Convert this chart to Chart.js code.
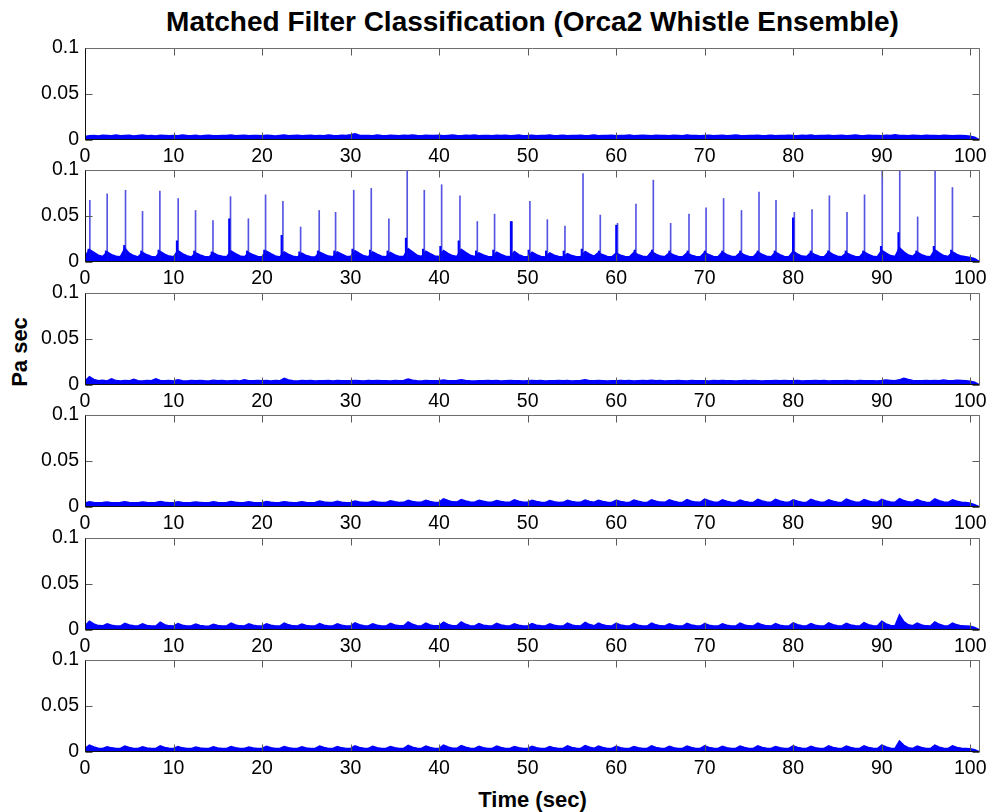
<!DOCTYPE html>
<html>
<head>
<meta charset="utf-8">
<title>Matched Filter Classification (Orca2 Whistle Ensemble)</title>
<script src="https://cdn.jsdelivr.net/npm/chart.js@4.4.1/dist/chart.umd.min.js"></script>
<style>
  html, body { margin: 0; padding: 0; background: #fff; }
  #figure { position: relative; width: 989px; height: 812px; overflow: hidden; background: #fff;
            font-family: "Liberation Sans", Arial, Helvetica, sans-serif; color: #000; }
  #figure canvas { position: absolute; left: 0; }
  .label { position: absolute; font-weight: bold; white-space: nowrap; line-height: 1; }
  #title { left: 85px; width: 895px; text-align: center; top: 8px; font-size: 28px; }
  #xlabel { left: 85px; width: 895px; text-align: center; top: 789px; font-size: 22px; }
  #ylabel { left: 20px; top: 352px; font-size: 22px; transform: translate(-50%, -50%) rotate(-90deg); }
</style>
</head>
<body>
<div id="figure">
  <div class="label" id="title">Matched Filter Classification (Orca2 Whistle Ensemble)</div>
  <div class="label" id="ylabel">Pa sec</div>
  <div class="label" id="xlabel">Time (sec)</div>
</div>
<script>
// ---- axes ----
const xTicks = [0, 10, 20, 30, 40, 50, 60, 70, 80, 90, 100];
const yTicks = [0, 0.05, 0.1];
const yTickLabels = ['0', '0.05', '0.1'];
const X_MAX = 101.1;          // seconds of record shown
const SAMPLE_STEP = 0.5;      // seconds between filter-output samples
const MILLI = 1e-3;           // output arrays below are in mPa·s

// ---- filter outputs, one array per filter (mPa·s, every 0.5 s from 0 to 101 s) ----
const filter1 = [
  3.8,4.6,5.0,4.4,5.2,4.8,4.5,5.3,4.7,4.9, 5.1,4.3,4.8,5.4,4.6,5.0,4.4,5.2,4.9,4.7,
  5.0,4.5,5.3,4.8,4.6,5.1,4.4,4.9,5.2,4.7, 4.5,5.0,4.8,5.3,4.6,4.9,5.1,4.5,4.8,5.0,
  4.7,5.2,4.9,4.4,5.0,5.3,4.6,4.8,5.1,4.5, 4.9,5.2,4.7,5.0,4.6,5.4,4.8,4.5,5.1,4.9,
  5.6,6.8,5.2,4.8,5.0,4.6,5.3,4.9,4.7,5.1, 5.0,4.6,5.2,4.8,5.5,4.9,4.7,5.1,4.8,5.0,
  5.2,4.7,5.0,5.4,4.8,4.6,5.1,4.9,5.3,4.7, 4.9,5.0,4.6,5.2,4.8,5.1,4.5,4.9,5.3,4.7,
  4.8,5.1,4.6,5.0,4.9,5.3,4.7,4.8,5.2,4.6, 5.0,4.8,5.1,4.7,4.9,5.4,4.6,5.0,4.8,5.1,
  4.7,5.0,4.9,5.3,4.6,4.8,5.1,4.9,4.5,5.2, 4.8,5.0,4.7,5.1,4.9,4.6,5.3,4.8,5.0,4.7,
  4.9,5.2,4.6,4.8,5.1,4.7,5.0,5.3,4.8,4.6, 5.0,4.9,5.2,4.7,4.8,5.1,4.6,5.0,4.9,5.2,
  4.8,4.6,5.1,4.9,5.3,4.7,5.0,4.8,5.2,4.6, 4.9,5.1,4.7,5.0,5.4,4.8,4.6,5.1,4.9,5.0,
  4.7,5.2,4.9,5.6,4.8,5.0,4.6,5.1,4.9,4.7, 5.2,4.8,5.0,4.6,5.1,4.9,4.7,5.0,4.8,4.6,
  4.2,3.0,0.4
];
const filter2 = [
  6.0,13.5,10.5,7.5,6.0,11.0,8.0,6.2,5.8,15.0, 9.5,7.0,5.6,10.5,7.8,6.0,5.5,11.5,8.5,6.4,
  5.8,12.5,9.0,6.8,5.5,10.0,7.6,6.0,5.4,9.8, 7.4,6.2,5.7,12.0,9.2,6.6,5.6,10.2,7.8,6.1,
  5.8,11.8,9.0,6.5,5.5,10.8,8.2,6.2,5.4,9.5, 7.0,5.8,5.5,10.6,8.4,6.4,5.7,11.0,8.6,6.3,
  5.9,12.2,9.4,6.7,5.6,11.0,8.5,6.3,5.6,10.4, 7.6,6.0,6.2,14.5,11.0,7.4,6.0,11.8,9.0,6.6,
  6.0,12.6,9.4,7.0,6.0,13.8,10.4,7.4,6.0,10.0, 7.6,6.0,5.6,10.8,8.2,6.2,5.8,11.5,8.0,6.0,
  5.6,10.6,8.0,6.0,5.5,9.8,7.4,5.9,5.4,9.2, 7.0,5.7,5.8,11.4,8.6,6.4,10.2,7.8,6.0,5.6,
  9.6,7.4,6.0,5.6,10.4,7.9,6.2,5.7,11.2,8.4, 6.4,5.8,10.0,7.6,6.0,5.6,9.8,7.5,6.0,5.7,
  10.4,7.8,6.1,5.7,10.8,8.0,6.2,5.8,10.2,7.7, 6.0,5.6,11.0,8.3,6.3,5.8,10.6,7.9,6.1,5.7,
  11.6,8.6,6.4,5.9,10.4,7.8,6.0,5.7,11.2,8.2, 6.2,5.8,10.0,7.6,6.0,5.6,11.0,8.2,6.3,5.8,
  12.8,9.6,7.0,6.0,15.5,11.0,7.6,6.2,10.6,8.0, 6.2,5.8,13.2,9.8,7.0,6.0,11.0,8.2,6.4,5.8,
  5.0,3.5,0.6
];
const filter3 = [
  4.2,9.0,6.0,4.6,5.2,4.4,6.6,4.8,4.3,5.0, 4.5,6.2,4.7,4.4,5.0,4.6,6.8,5.0,4.5,4.8,
  4.4,5.6,4.7,4.3,4.9,4.5,5.0,4.6,4.4,5.2, 4.6,4.8,4.3,4.7,4.9,4.4,5.8,4.6,4.5,4.9,
  4.6,4.8,4.4,5.0,4.5,7.2,5.4,4.6,4.4,4.8, 4.5,4.9,4.3,4.7,4.6,5.0,4.4,4.8,4.5,4.7,
  4.5,4.9,4.6,4.4,4.8,4.7,5.0,4.5,4.6,4.4, 4.9,4.6,4.8,6.4,5.2,4.6,4.4,4.8,4.5,4.7,
  4.6,5.4,4.7,4.5,4.9,5.8,4.8,4.5,4.4,4.7, 4.6,4.9,4.5,4.8,4.4,4.6,4.9,4.5,4.7,4.4,
  4.6,4.8,4.5,4.9,4.4,4.7,4.6,5.0,4.5,4.8, 4.4,4.6,4.9,5.6,4.7,4.5,4.8,4.6,4.4,4.7,
  4.5,4.9,4.6,4.8,4.4,4.7,4.9,4.5,5.2,4.6, 4.8,4.4,4.7,4.5,4.9,4.6,4.4,4.8,4.6,4.5,
  4.7,4.4,4.9,4.6,4.8,4.5,4.7,4.4,4.6,4.9, 4.5,4.8,4.6,4.4,4.7,4.5,4.9,4.6,4.8,4.5,
  4.6,4.8,4.4,4.7,4.5,4.9,4.6,4.8,4.4,4.6, 4.7,4.5,4.9,4.6,4.4,4.8,4.5,4.7,4.6,4.4,
  4.8,5.4,5.0,4.6,5.6,7.4,6.0,5.0,4.7,4.5, 4.8,4.6,4.9,4.5,5.4,4.7,4.6,5.2,4.8,4.5,
  4.2,3.0,0.4
];
const filter4 = [
  4.4,5.6,5.0,4.6,4.8,5.4,4.7,4.5,4.9,5.8, 5.0,4.6,4.7,5.5,4.9,4.5,4.8,5.9,5.1,4.6,
  4.7,5.6,5.0,4.6,4.8,5.4,4.9,4.5,4.7,5.7, 5.0,4.6,4.8,6.0,5.2,4.7,4.8,5.6,5.0,4.6,
  4.7,6.0,5.2,4.7,4.9,5.8,5.1,4.7,4.8,5.6, 5.0,4.6,4.9,6.4,5.4,4.8,4.9,6.2,5.3,4.7,
  4.9,6.6,5.5,4.9,5.0,6.4,5.4,4.8,5.0,6.8, 5.6,4.9,5.1,7.4,6.0,5.1,5.2,7.2,5.9,5.0,
  5.2,8.8,7.0,5.6,5.4,8.2,6.6,5.4,5.2,7.4, 6.2,5.2,5.1,7.0,5.9,5.1,5.2,7.8,6.3,5.2,
  5.1,7.2,6.0,5.1,5.0,7.0,5.8,5.0,5.1,7.4, 6.0,5.1,5.2,7.6,6.1,5.2,7.3,6.0,5.1,5.0,
  7.4,6.1,5.2,5.0,7.6,6.2,5.2,5.0,7.9,6.3, 5.3,5.1,7.8,6.2,5.2,5.0,8.0,6.4,5.3,5.1,
  8.6,6.8,5.5,5.1,7.8,6.3,5.3,5.0,7.6,6.1, 5.2,5.0,8.2,6.5,5.4,5.1,8.4,6.6,5.4,5.1,
  7.8,6.2,5.2,5.0,8.4,6.6,5.4,5.1,7.9,6.3, 5.3,5.0,8.6,6.8,5.5,5.1,8.2,6.5,5.3,5.1,
  8.4,6.6,5.4,5.1,9.2,7.0,5.6,5.2,8.0,6.4, 5.3,5.0,8.8,6.9,5.5,5.1,7.8,6.2,5.2,4.8,
  4.0,2.6,0.4
];
const filter5 = [
  4.4,9.6,6.6,4.8,4.5,6.8,5.2,4.4,4.3,7.2, 5.4,4.5,4.4,6.6,5.0,4.3,4.4,8.4,5.8,4.5,
  4.3,7.0,5.3,4.4,4.3,6.4,5.0,4.3,4.2,6.2, 4.9,4.3,4.4,7.4,5.5,4.5,4.3,6.6,5.1,4.4,
  4.3,6.8,5.2,4.4,4.3,7.6,5.6,4.5,4.3,6.5, 5.0,4.3,4.4,6.9,5.3,4.4,4.3,6.6,5.1,4.4,
  4.4,7.8,5.7,4.6,4.4,6.8,5.2,4.4,4.3,7.2, 5.4,4.5,4.5,8.8,6.2,4.7,4.4,7.4,5.5,4.5,
  4.5,8.6,6.0,4.7,4.5,8.8,6.2,4.7,4.4,7.0, 5.3,4.5,4.4,7.2,5.4,4.5,4.4,6.8,5.2,4.4,
  4.4,7.0,5.3,4.5,4.3,6.6,5.1,4.4,4.3,7.4, 5.5,4.5,4.4,8.2,5.9,4.6,7.6,5.6,4.5,4.4,
  7.2,5.4,4.5,4.3,7.0,5.3,4.4,4.3,7.6,5.6, 4.5,4.4,6.8,5.2,4.4,4.3,7.2,5.4,4.5,4.3,
  7.0,5.3,4.4,4.3,6.8,5.2,4.4,4.3,7.4,5.5, 4.5,4.4,7.6,5.6,4.5,4.3,6.9,5.3,4.4,4.3,
  7.8,5.7,4.6,4.4,7.0,5.3,4.4,4.3,7.8,5.7, 4.6,4.4,7.2,5.4,4.5,4.3,8.0,5.8,4.6,4.4,
  9.6,6.6,4.9,4.5,16.5,9.0,5.6,4.6,7.4,5.5, 4.5,4.4,8.8,6.2,4.7,4.4,7.6,5.6,4.5,4.3,
  4.0,2.8,0.4
];
const filter6 = [
  3.8,7.4,5.4,4.1,3.9,5.8,4.5,3.8,3.9,6.4, 4.8,3.9,3.8,5.6,4.4,3.8,3.9,6.6,4.9,4.0,
  3.8,5.8,4.5,3.8,3.7,5.4,4.3,3.7,3.8,5.6, 4.4,3.8,3.9,6.0,4.6,3.9,3.8,5.5,4.3,3.8,
  3.8,6.2,4.7,3.9,3.8,6.0,4.6,3.8,3.8,5.6, 4.4,3.8,3.9,6.4,4.8,3.9,3.8,5.8,4.5,3.8,
  3.9,6.6,4.9,4.0,3.9,6.2,4.7,3.9,3.8,6.0, 4.6,3.9,4.0,7.2,5.2,4.1,3.9,6.4,4.8,3.9,
  4.0,7.6,5.4,4.1,4.0,7.0,5.1,4.0,3.9,6.2, 4.7,3.9,3.9,6.4,4.8,3.9,3.9,6.0,4.6,3.8,
  3.9,6.2,4.7,3.9,3.8,5.8,4.5,3.8,3.9,6.6, 4.9,4.0,3.9,7.0,5.1,4.0,6.4,4.8,3.9,3.8,
  6.2,4.7,3.9,3.8,6.0,4.6,3.8,3.8,6.8,5.0, 4.0,3.9,6.2,4.7,3.9,3.8,6.4,4.8,3.9,3.8,
  6.6,4.9,4.0,3.8,6.2,4.7,3.9,3.8,6.4,4.8, 3.9,3.8,6.8,5.0,4.0,3.8,6.0,4.6,3.8,3.8,
  6.8,5.0,4.0,3.9,6.2,4.7,3.9,3.8,6.8,5.0, 4.0,3.9,6.4,4.8,3.9,3.8,6.6,4.9,4.0,3.8,
  7.6,5.4,4.1,3.9,12.0,7.2,4.6,3.9,6.4,4.8, 3.9,3.8,7.4,5.3,4.1,3.9,6.8,5.0,4.0,3.8,
  3.6,2.6,0.4
];

// ---- detections on the matching filter (filter 2): time (s), peak and core heights (Pa·s) ----
const spikeTimes = [
  0.49, 2.45, 4.52, 6.44, 8.40, 10.47, 12.43, 14.40, 16.38, 18.40,
  20.34, 22.30, 24.30, 26.40, 28.25, 30.30, 32.28, 34.27, 36.34, 38.27,
  40.23, 42.30, 44.26, 46.21, 48.20, 50.20, 52.17, 54.16, 56.20, 58.15,
  60.10, 62.18, 64.14, 66.10, 68.17, 70.10, 72.08, 74.10, 76.08, 78.00,
  80.07, 82.07, 84.03, 86.02, 88.00, 90.00, 91.98, 94.00, 95.97, 97.93
];
const spikePeaks = [
  0.067, 0.074, 0.078, 0.055, 0.077, 0.069, 0.056, 0.045, 0.071, 0.047,
  0.073, 0.066, 0.038, 0.056, 0.054, 0.078, 0.080, 0.047, 0.099, 0.078,
  0.084, 0.072, 0.044, 0.052, 0.044, 0.066, 0.046, 0.039, 0.096, 0.051,
  0.042, 0.063, 0.089, 0.042, 0.052, 0.059, 0.069, 0.056, 0.076, 0.067,
  0.054, 0.057, 0.072, 0.054, 0.073, 0.102, 0.102, 0.049, 0.100, 0.081
];
const spikeCores = [
  0.014, 0.012, 0.018, 0.012, 0.013, 0.023, 0.012, 0.011, 0.047, 0.012,
  0.013, 0.029, 0.011, 0.012, 0.012, 0.014, 0.013, 0.012, 0.026, 0.014,
  0.017, 0.023, 0.012, 0.013, 0.044, 0.013, 0.012, 0.012, 0.014, 0.012,
  0.040, 0.013, 0.013, 0.012, 0.012, 0.012, 0.012, 0.012, 0.012, 0.012,
  0.048, 0.012, 0.012, 0.012, 0.012, 0.017, 0.032, 0.012, 0.017, 0.013
];

// ---- layout of the six stacked axes (plot-area top edge, px) ----
const PANEL_TOPS = [48, 170, 293, 415, 538, 660];
const PLOT_H = 92;
const PAD_TOP = 12;
const X_AXIS_H = 28;
const AXIS_LEFT = 85;
const RIGHT_PAD = 9;
const FONT = { family: '"Liberation Sans", Arial, Helvetica, sans-serif', size: 19.5 };

const BLUE = '#0000ff';

const toPoints = vals => vals.map((v, i) => ({ x: i * SAMPLE_STEP, y: v * MILLI }));

// Box with inward tick marks on all four sides
const boxFrame = {
  id: 'boxFrame',
  afterDatasetsDraw(chart) {
    const { ctx, chartArea: a, scales: { x, y } } = chart;
    const L = Math.round(a.left) + 0.5, R = Math.round(a.right) - 0.5;
    const T = Math.round(a.top) + 0.5, B = Math.round(a.bottom) - 0.5;
    const TL = 7;
    ctx.save();
    ctx.lineWidth = 1;
    ctx.strokeStyle = '#5a5a5a';
    ctx.beginPath();
    xTicks.forEach(v => {
      const p = Math.round(x.getPixelForValue(v)) + 0.5;
      ctx.moveTo(p, B); ctx.lineTo(p, B - TL);
      ctx.moveTo(p, T); ctx.lineTo(p, T + TL);
    });
    yTicks.forEach(v => {
      const p = Math.round(y.getPixelForValue(v)) + 0.5;
      ctx.moveTo(L, p); ctx.lineTo(L + TL, p);
      ctx.moveTo(R, p); ctx.lineTo(R - TL, p);
    });
    ctx.stroke();
    ctx.strokeStyle = '#6e6e6e';
    ctx.beginPath();
    ctx.moveTo(L, T); ctx.lineTo(R, T); ctx.lineTo(R, B);
    ctx.stroke();
    ctx.strokeStyle = '#111';
    ctx.beginPath();
    ctx.moveTo(L, T); ctx.lineTo(L, B); ctx.lineTo(R, B);
    ctx.stroke();
    ctx.restore();
  }
};

function panelOptions() {
  return {
    responsive: false,
    animation: false,
    devicePixelRatio: 1,
    events: [],
    layout: { padding: { top: PAD_TOP, right: RIGHT_PAD, left: 0, bottom: 0 } },
    plugins: { legend: { display: false }, tooltip: { enabled: false }, title: { display: false } },
    scales: {
      x: {
        type: 'linear', min: 0, max: X_MAX, offset: false,
        grid: { display: false, drawTicks: false, offset: false },
        border: { display: false },
        afterBuildTicks: s => { s.ticks = xTicks.map(v => ({ value: v })); },
        afterFit: s => { s.height = X_AXIS_H; s.paddingLeft = 0; s.paddingRight = 0; },
        ticks: { padding: 5, font: FONT, color: '#000', maxRotation: 0, autoSkip: false,
                 callback: v => String(v) }
      },
      y: {
        type: 'linear', min: 0, max: 0.1,
        grid: { display: false, drawTicks: false },
        border: { display: false },
        afterBuildTicks: s => { s.ticks = yTicks.map(v => ({ value: v })); },
        afterFit: s => { s.width = AXIS_LEFT; s.paddingTop = 0; s.paddingBottom = 0; },
        ticks: { padding: 6, font: FONT, color: '#000',
                 callback: (v, i) => yTickLabels[i] }
      }
    }
  };
}

function baseDataset(vals) {
  return {
    type: 'line',
    data: toPoints(vals),
    borderColor: BLUE,
    backgroundColor: BLUE,
    borderWidth: 1.5,
    fill: 'origin',
    pointRadius: 0,
    tension: 0,
    order: 3
  };
}

function spikeDatasets() {
  return [
    {
      type: 'bar',
      data: spikeTimes.map((t, i) => ({ x: t, y: spikePeaks[i] })),
      backgroundColor: 'rgba(20,20,215,0.72)',
      barThickness: 1,
      order: 2
    },
    {
      type: 'bar',
      data: spikeTimes.map((t, i) => ({ x: t, y: spikeCores[i] })),
      backgroundColor: BLUE,
      barThickness: 1.5,
      order: 1
    }
  ];
}

const filters = [filter1, filter2, filter3, filter4, filter5, filter6];
const fig = document.getElementById('figure');

filters.forEach((vals, k) => {
  const canvas = document.createElement('canvas');
  canvas.width = 989;
  canvas.height = PAD_TOP + PLOT_H + X_AXIS_H;
  canvas.style.width = '989px';
  canvas.style.height = canvas.height + 'px';
  canvas.style.top = (PANEL_TOPS[k] - PAD_TOP) + 'px';
  fig.appendChild(canvas);

  const datasets = [baseDataset(vals)];
  if (k === 1) datasets.push(...spikeDatasets());

  new Chart(canvas, {
    type: 'line',
    data: { datasets },
    options: panelOptions(),
    plugins: [boxFrame]
  });
});
</script>
</body>
</html>
